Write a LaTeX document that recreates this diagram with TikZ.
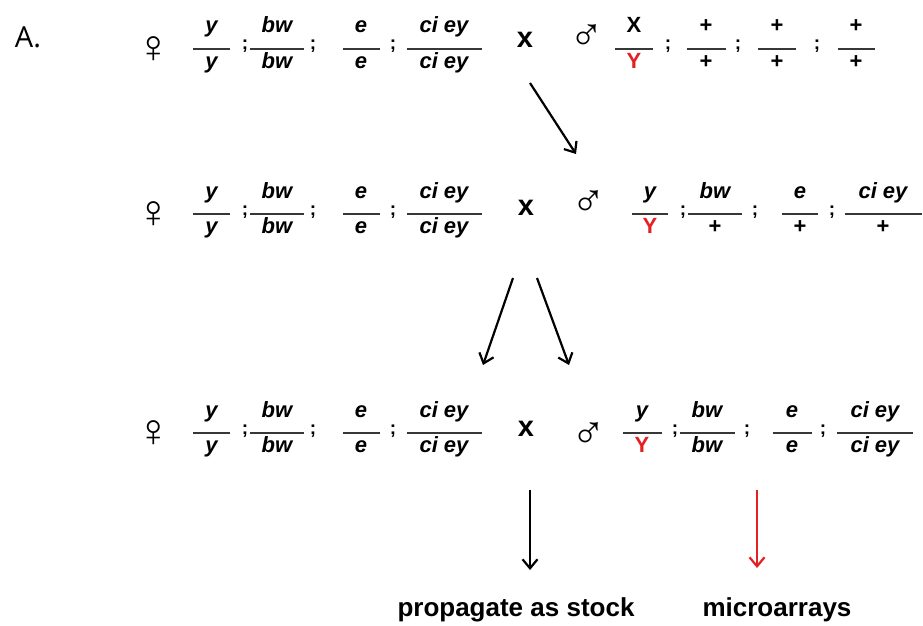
\documentclass[tikz,border=0pt]{standalone}
\usepackage{fontspec}
\setmainfont{Liberation Sans}
\newfontfamily\symfont{Liberation Sans}
\newfontfamily\labfont{Open Sans}
\usetikzlibrary{arrows.meta}
\definecolor{mred}{RGB}{228,32,36}
\definecolor{bargray}{RGB}{55,55,55}
% name, cx, bar y, width, numerator, denominator
\newcommand\gfr[6]{%
  \coordinate (#1-l) at ({#2-#4/2},#3);
  \coordinate (#1-r) at ({#2+#4/2},#3);
  \draw[barline] (#1-l) -- (#1-r);
  \node[ftxt,anchor=base] (#1-n) at (#2,{#3-16}) {#5};
  \node[ftxt,anchor=base] (#1-d) at (#2,{#3+19}) {#6};
}
\newcommand\upY{{\upshape\color{mred}Y}}
\newcommand\upP{{\upshape +}}
\begin{document}
\begin{tikzpicture}[x=1pt,y=-1pt,
  ftxt/.style={inner sep=0pt, font=\fontsize{22}{22}\selectfont\bfseries\itshape},
  barline/.style={line width=1.6pt, bargray},
  semi/.style={inner sep=0pt, font=\fontsize{19}{19}\selectfont\bfseries, anchor=base},
  cross/.style={inner sep=0pt, font=\fontsize{29}{29}\selectfont\bfseries},
  sex/.style={inner sep=0pt, font=\symfont\fontsize{46}{46}\selectfont},
  arr/.style={line width=2.2pt, -{Straight Barb[length=9pt,width=15pt,line width=2.2pt]}},
  lab/.style={inner sep=0pt, font=\fontsize{26}{26}\selectfont\bfseries, anchor=base},
]
\useasboundingbox (0,0) rectangle (923,626);
\fill[white] (0,0) rectangle (923,626);

\node[inner sep=0pt, font=\labfont\fontsize{29}{29}\selectfont] (A) at (28,37) {A.};

% ---------- Row 1 ----------
\node[sex] (f1sym) at (154,50) {♀};
\gfr{r1a}{211.5}{49}{37}{y}{y}
\node[semi] (r1s1) at (245,50) {;};
\gfr{r1b}{277}{49}{54}{bw}{bw}
\node[semi] (r1s2) at (313,50) {;};
\gfr{r1c}{361}{49}{37}{e}{e}
\node[semi] (r1s3) at (393,50) {;};
\gfr{r1d}{444}{49}{75}{ci ey}{ci ey}
\node[cross] (r1x) at (525,40) {x};
\node[sex] (m1sym) at (587,38) {♂};
\gfr{r1e}{634}{49}{38}{\upshape X}{\upY}
\node[semi] (r1s4) at (668,50) {;};
\gfr{r1f}{706}{49}{39}{\upP}{\upP}
\node[semi] (r1s5) at (738,50) {;};
\gfr{r1g}{777}{49}{38}{\upP}{\upP}
\node[semi] (r1s6) at (817,50) {;};
\gfr{r1h}{856}{49}{37}{\upP}{\upP}

% ---------- Row 2 ----------
\node[sex] (f2sym) at (154,215) {♀};
\gfr{r2a}{211.5}{214}{37}{y}{y}
\node[semi] (r2s1) at (245,215) {;};
\gfr{r2b}{277}{214}{54}{bw}{bw}
\node[semi] (r2s2) at (313,215) {;};
\gfr{r2c}{361}{214}{37}{e}{e}
\node[semi] (r2s3) at (393,215) {;};
\gfr{r2d}{444}{214}{75}{ci ey}{ci ey}
\node[cross] (r2x) at (526,208) {x};
\node[sex] (m2sym) at (589,204) {♂};
\gfr{r2e}{650}{214}{36}{y}{\upY}
\node[semi] (r2s4) at (683,215) {;};
\gfr{r2f}{715}{214}{54}{bw}{\upP}
\node[semi] (r2s5) at (755,215) {;};
\gfr{r2g}{800}{214}{36}{e}{\upP}
\node[semi] (r2s6) at (832,215) {;};
\gfr{r2h}{883}{214}{77}{ci ey}{\upP}

% ---------- Row 3 ----------
\node[sex] (f3sym) at (154,434) {♀};
\gfr{r3a}{211.5}{433}{37}{y}{y}
\node[semi] (r3s1) at (245,434) {;};
\gfr{r3b}{277}{433}{54}{bw}{bw}
\node[semi] (r3s2) at (313,434) {;};
\gfr{r3c}{361}{433}{37}{e}{e}
\node[semi] (r3s3) at (393,434) {;};
\gfr{r3d}{444}{433}{75}{ci ey}{ci ey}
\node[cross] (r3x) at (526,429) {x};
\node[sex] (m3sym) at (589,436) {♂};
\gfr{r3e}{642}{433}{39}{y}{\upY}
\node[semi] (r3s4) at (675,434) {;};
\gfr{r3f}{707}{433}{55}{bw}{bw}
\node[semi] (r3s5) at (747,434) {;};
\gfr{r3g}{792}{433}{39}{e}{e}
\node[semi] (r3s6) at (823,434) {;};
\gfr{r3h}{875}{433}{76}{ci ey}{ci ey}

% ---------- arrows ----------
\coordinate (a1s) at (530,83);
\coordinate (a1e) at (576,154);
\draw[arr] (a1s) -- (a1e);
\coordinate (a2s) at (513,278);
\coordinate (a2e) at (483,365);
\draw[arr] (a2s) -- (a2e);
\coordinate (a3s) at (537,278);
\coordinate (a3e) at (569,365);
\draw[arr] (a3s) -- (a3e);

\node[lab] (stock) at (516,616) {propagate as stock};
\node[lab] (micro) at (777,616) {microarrays};
\coordinate (a4s) at (530,490);
\coordinate (a4e) at (530,570);
\draw[arr] (a4s) -- (a4e);
\coordinate (a5s) at (757,490);
\coordinate (a5e) at (757,568);
\draw[arr, mred] (a5s) -- (a5e);
\end{tikzpicture}
\end{document}
